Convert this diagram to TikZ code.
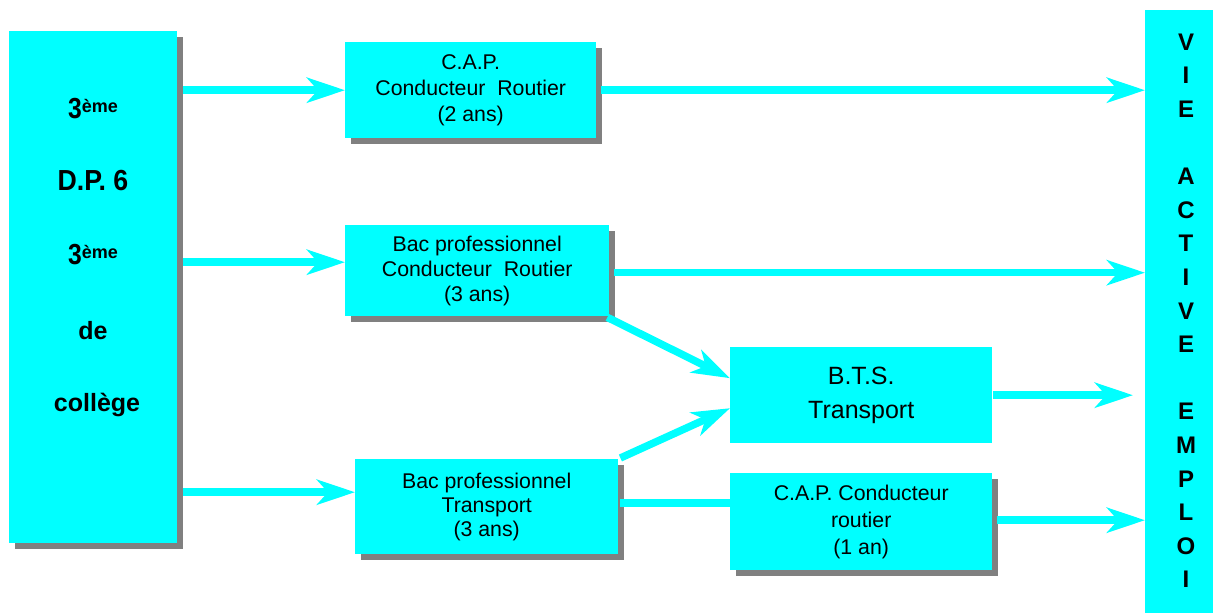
\documentclass[tikz,border=0pt]{standalone}
\usepackage{fontspec}
\setmainfont{Liberation Sans}
\usetikzlibrary{arrows.meta,shadows,calc}
\definecolor{cy}{HTML}{00FFFF}
\definecolor{sh}{HTML}{808080}
\tikzset{
  box/.style={fill=cy, draw=none, inner sep=0pt, align=center, anchor=north west,
    font=\fontsize{21.3}{26}\selectfont},
  shbox/.style={box, drop shadow={shadow xshift=5.5pt, shadow yshift=-5.5pt, fill=sh, opacity=1}},
  arr/.style={draw=cy, line width=7.5pt, -{Stealth[length=38pt, width=25pt, inset=11pt]}},
  plain/.style={draw=cy, line width=7.5pt},
  big/.style={font=\fontsize{25}{25}\bfseries\selectfont, inner sep=0pt, anchor=base},
  bar/.style={font=\fontsize{24}{24}\bfseries\selectfont, inner sep=0pt},
}
\newcommand{\eme}{\scalebox{0.85}[1]{\fontsize{29}{29}\selectfont 3}\raisebox{6pt}{\fontsize{18}{18}\selectfont ème}}
\begin{document}
\begin{tikzpicture}[x=1pt,y=-1pt]
\useasboundingbox (0,0) rectangle (1213,613);
% boxes
\node[shbox, minimum width=168pt, minimum height=512pt] (L) at (9,31) {};
\node[big] (t1) at (93,118) {\eme};
\node[big] (t2) at (93,190.5) {\scalebox{0.92}[1]{\fontsize{29}{29}\selectfont D.P. 6}};
\node[big] (t3) at (93,264) {\eme};
\node[big] (t4) at (93,339.5) {de};
\node[big] (t5) at (97,411) {collège};

\node[shbox, minimum width=251pt, minimum height=96pt] (CAP) at (345,42) {C.A.P.\\Conducteur\ \ Routier\\(2 ans)};
\node[shbox, minimum width=264pt, minimum height=91pt, font=\fontsize{21.3}{25}\selectfont] (BCR) at (345,225) {Bac professionnel\\Conducteur\ \ Routier\\(3 ans)};
\node[box, minimum width=262pt, minimum height=96pt, font=\fontsize{25}{34}\selectfont] (BTS) at (730,347) {B.T.S.\\Transport};
\node[shbox, minimum width=263pt, minimum height=95pt, font=\fontsize{21.3}{24}\selectfont] (BT) at (355,459) {Bac professionnel\\Transport\\(3 ans)};
\node[shbox, minimum width=262pt, minimum height=97pt, font=\fontsize{21.3}{27}\selectfont] (CAP1) at (730,473) {C.A.P. Conducteur\\routier\\(1 an)};

\node[box, minimum width=68pt, minimum height=603pt] (R) at (1145,10) {};
\foreach \l [count=\i from 0] in {V,I,E,{},A,C,T,I,V,E,{},E,M,P,L,O,I}{
  \node[bar] (r\i) at (1186,{42+\i*33.6}) {\l};
}
% helper coordinates
\coordinate (lOut) at ([xshift=6pt]L.east);
\coordinate (bcrIn) at ([yshift=8.5pt]BCR.west);
\coordinate (btIn) at ([yshift=14.5pt]BT.west);
\coordinate (bcrOut) at ([xshift=5pt,yshift=-2pt]BCR.east);
\coordinate (btsStop) at ([xshift=-12pt]R.west);
\coordinate (capOneOut) at ([xshift=5pt,yshift=1.5pt]CAP1.east);
\coordinate (btOut) at ([xshift=2pt,yshift=3.5pt]BT.east);
% arrows from the left box
\draw[arr] (lOut |- CAP.west) -- (CAP.west);
\draw[arr] (lOut |- bcrIn) -- (bcrIn);
\draw[arr] (lOut |- btIn) -- (btIn);
% to the right bar
\draw[arr] ([xshift=5pt]CAP.east) -- (R.west |- CAP.east);
\draw[arr] (bcrOut) -- (R.west |- bcrOut);
\draw[arr] ([xshift=1pt]BTS.east) -- (btsStop |- BTS.east);
\draw[arr] (capOneOut) -- (R.west |- capOneOut);
% to BTS
\draw[arr] ([xshift=-2pt,yshift=-1pt]BCR.south east) -- ([yshift=17pt]BTS.west);
\draw[arr] ([xshift=2pt,yshift=1pt]BT.north east) -- ([yshift=-13pt]BTS.west);
% BacT to CAP1
\draw[plain] (btOut) -- (CAP1.west |- btOut);
\end{tikzpicture}
\end{document}
